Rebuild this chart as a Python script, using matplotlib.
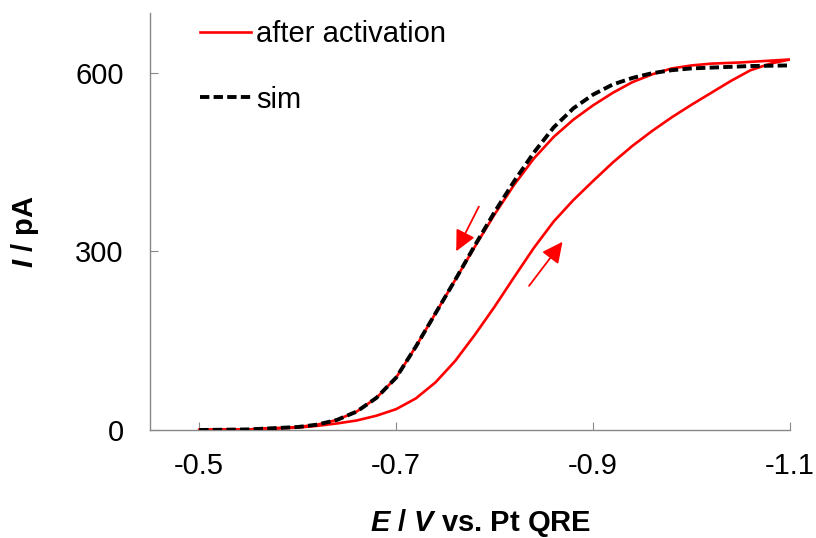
import matplotlib
matplotlib.use("Agg")
import matplotlib.pyplot as plt

plt.rcParams['font.family'] = ['Liberation Sans', 'DejaVu Sans']
plt.rcParams['mathtext.fontset'] = 'custom'
plt.rcParams['mathtext.it'] = 'Liberation Sans:bold:italic'
plt.rcParams['mathtext.rm'] = 'Liberation Sans:bold'

# forward scan (-0.5 -> -1.1), red
E_fwd = [-0.50, -0.55, -0.60, -0.62, -0.64, -0.66, -0.68, -0.70, -0.72, -0.74, -0.76,
         -0.78, -0.80, -0.82, -0.84, -0.86, -0.88, -0.90, -0.92, -0.94, -0.96, -0.98,
         -1.00, -1.02, -1.04, -1.06, -1.08, -1.10]
I_fwd = [0, 1, 4, 7, 11, 16, 24, 35, 53, 80, 116,
         160, 207, 257, 306, 350, 386, 418, 449, 477, 502, 525,
         546, 566, 586, 604, 615, 622]

# reverse scan (-1.1 -> -0.5), red
E_rev = [-1.10, -1.08, -1.05, -1.02, -1.00, -0.98, -0.96, -0.94, -0.92, -0.90, -0.88,
         -0.86, -0.84, -0.82, -0.80, -0.78, -0.76, -0.74, -0.72, -0.70, -0.68, -0.66,
         -0.64, -0.62, -0.60, -0.55, -0.50]
I_rev = [622, 620, 617, 615, 612, 607, 597, 584, 566, 545, 521,
         492, 456, 412, 362, 308, 252, 196, 140, 88, 54, 31,
         17, 9, 5, 1, 0]

# simulation, black dashed
E_sim = [-0.50, -0.55, -0.60, -0.62, -0.64, -0.66, -0.68, -0.70, -0.72, -0.74, -0.76,
         -0.78, -0.80, -0.82, -0.84, -0.86, -0.88, -0.90, -0.92, -0.94, -0.96, -0.98,
         -1.00, -1.03, -1.06, -1.10]
I_sim = [0, 1, 5, 9, 17, 31, 54, 88, 140, 196, 252,
         310, 366, 418, 466, 508, 540, 563, 580, 591, 599, 604,
         607, 609, 611, 612]

# scan direction arrows (tail, tip)
arrow_back = ((-0.784, 375), (-0.761, 300))
arrow_fwd = ((-0.835, 242), (-0.869, 316))

fig = plt.figure(figsize=(8.16, 5.38), dpi=100)
ax = fig.add_axes([150/816, 108/538, 640/816, 417/538])

ax.plot(E_fwd + E_rev[1:], I_fwd + I_rev[1:], color='#ff0000', lw=1.9,
        label='after activation', zorder=2)
ax.plot(E_sim, I_sim, color='black', lw=2.8, ls=(0, (2.4, 1.1)), label='sim', zorder=3)

for tail, tip in [arrow_back, arrow_fwd]:
    ax.annotate('', xy=tip, xytext=tail,
                arrowprops=dict(arrowstyle='-|>,head_length=0.45,head_width=0.22',
                                color='#ff0000', lw=1.3,
                                mutation_scale=28, shrinkA=0, shrinkB=0))

ax.set_xlim(-0.45, -1.1)
ax.set_ylim(0, 700)
ax.set_xticks([-0.5, -0.7, -0.9, -1.1])
ax.set_xticklabels(['-0.5', '-0.7', '-0.9', '-1.1'])
ax.set_yticks([0, 300, 600])

for s in ['top', 'right']:
    ax.spines[s].set_visible(False)
for s in ['left', 'bottom']:
    ax.spines[s].set_color('#888888')
    ax.spines[s].set_linewidth(1.0)
ax.tick_params(axis='both', direction='in', length=6, color='#888888', labelsize=21)
ax.tick_params(axis='y', pad=19)
ax.tick_params(axis='x', pad=16)

ax.set_xlabel(r'$E$ / $V$ vs. Pt QRE', fontsize=21, fontweight='bold')
ax.set_ylabel(r'$I$ / pA', fontsize=21, fontweight='bold')
ax.xaxis.label.set_va('baseline')
ax.xaxis.set_label_coords((481 - 150) / 640, (430 - 531) / 417)
ax.yaxis.set_label_coords((41 - 150) / 640, 0.475)

ax.legend(loc='upper left', bbox_to_anchor=(200/816, 1 - 20/538),
          bbox_transform=fig.transFigure, frameon=False, fontsize=21,
          handlelength=1.75, handletextpad=0.17, labelspacing=1.29,
          borderpad=0, borderaxespad=0)

fig.savefig('out.png', dpi=100)
